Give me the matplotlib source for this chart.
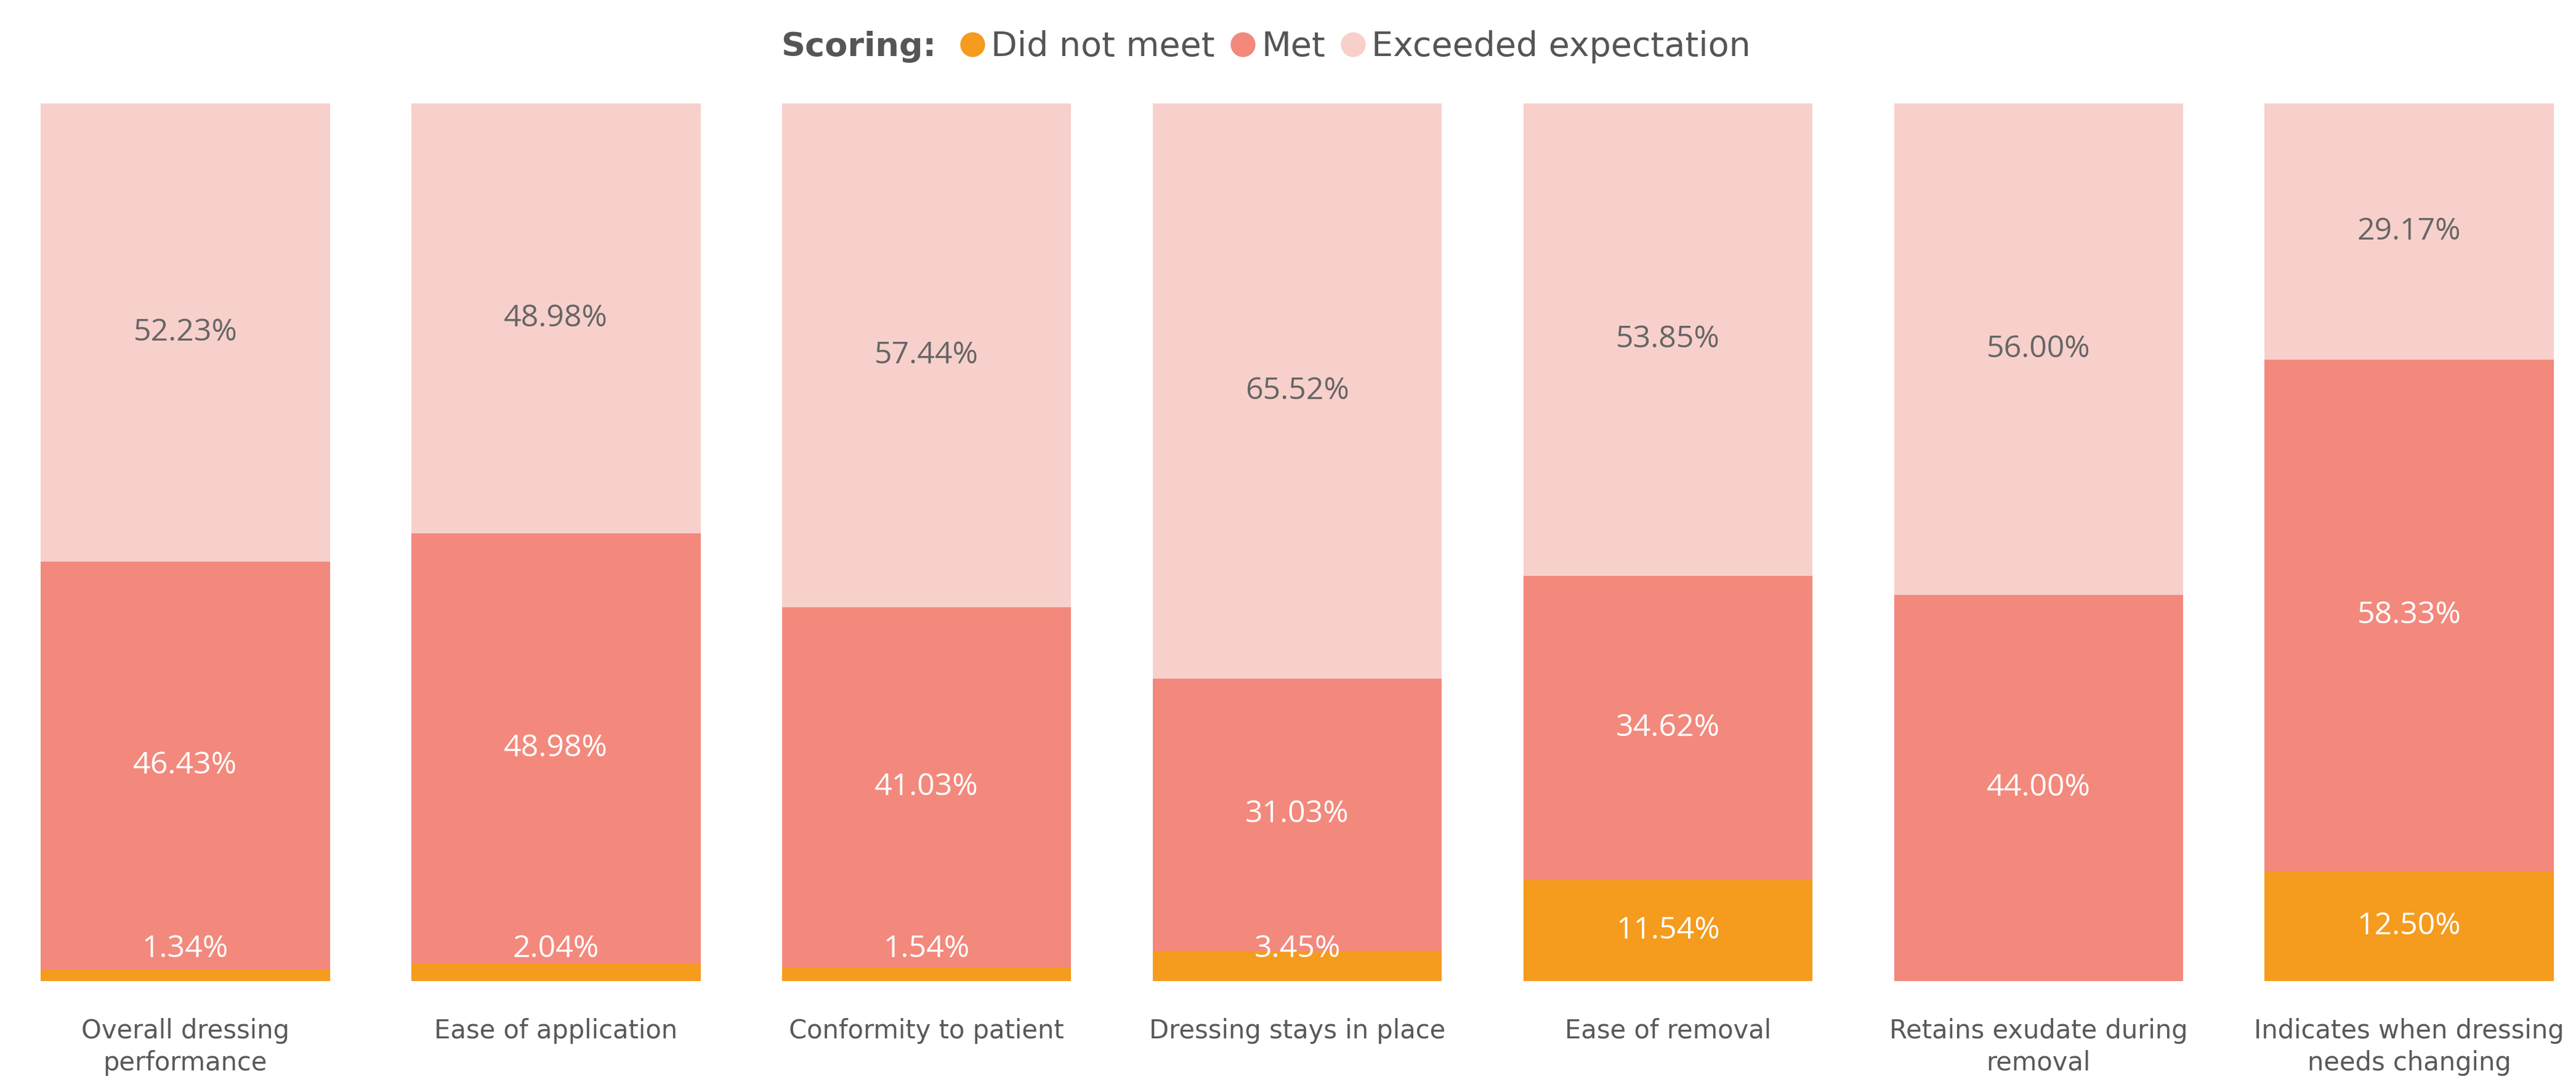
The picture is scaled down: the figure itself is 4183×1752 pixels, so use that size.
import matplotlib
matplotlib.use("Agg")
import matplotlib.pyplot as plt
from matplotlib.lines import Line2D
import numpy as np

# data
categories = ["Overall dressing\nperformance", "Ease of application", "Conformity to patient",
              "Dressing stays in place", "Ease of removal", "Retains exudate during\nremoval",
              "Indicates when dressing\nneeds changing"]
did_not_meet = [1.34, 2.04, 1.54, 3.45, 11.54, 0.0, 12.50]
met = [46.43, 48.98, 41.03, 31.03, 34.62, 44.00, 58.33]
exceeded = [52.23, 48.98, 57.44, 65.52, 53.85, 56.00, 29.17]
series_names = ["Did not meet", "Met", "Exceeded expectation"]
colors = ["#F59B1E", "#F2897C", "#F8D0CB"]
label_colors = ["white", "white", "#666666"]

plt.rcParams['font.family'] = ['Open Sans', 'DejaVu Sans']

fig = plt.figure(figsize=(41.83, 17.52), dpi=100)
ax = fig.add_axes([0, 1 - 1593 / 1752, 1, (1593 - 168) / 1752])

x = np.arange(len(categories))
bottom = np.zeros(len(categories))
for vals, col, lcol in zip([did_not_meet, met, exceeded], colors, label_colors):
    vals = np.array(vals)
    ax.bar(x, vals, width=0.78, bottom=bottom, color=col, linewidth=0)
    for i in range(len(x)):
        if vals[i] <= 0:
            continue
        ypos = max(bottom[i] + vals[i] / 2, 3.6)
        ax.text(x[i], ypos, "{:.2f}%".format(vals[i]), ha='center', va='center',
                fontsize=36, color=lcol)
    bottom = bottom + vals

ax.set_xlim(-0.5, 6.45)
ax.set_ylim(0, 100)
ax.axis('off')

# category labels under the bars
for i, c in enumerate(categories):
    ax.text(x[i], -4.2, c, ha='center', va='top', fontsize=30, color='#595959',
            family='DejaVu Sans', linespacing=1.3, clip_on=False)

# legend
fig.text(1268 / 4183, 1 - 76 / 1752, "Scoring:", fontsize=39, fontweight='bold',
         color='#555555', ha='left', va='center', family='DejaVu Sans')
handles = [Line2D([0], [0], marker='o', linestyle='', markersize=28,
                  markerfacecolor=c, markeredgecolor=c) for c in colors]
fig.legend(handles, series_names, loc='center left',
           bbox_to_anchor=(1560 / 4183, 1 - 76 / 1752), ncol=3, frameon=False,
           prop={'family': 'DejaVu Sans', 'size': 40}, labelcolor='#555555',
           handletextpad=0.19, columnspacing=0.46, handlelength=0.7,
           borderpad=0, borderaxespad=0)

fig.savefig("out.png", dpi=100)
